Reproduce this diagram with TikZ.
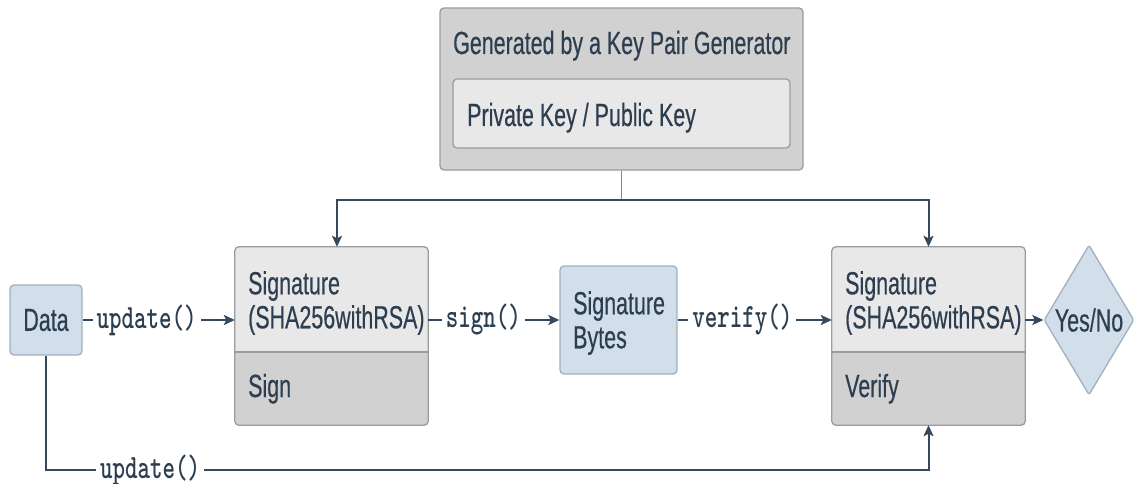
\documentclass[tikz,border=0pt]{standalone}
\usepackage{fontspec}
\usepackage{graphicx}
\setmainfont[FakeStretch=0.67,FakeBold=0.4]{Liberation Sans}
\usetikzlibrary{shapes.geometric,arrows.meta}

\definecolor{ink}{HTML}{2C3E50}
\definecolor{wire}{HTML}{34495E}
\definecolor{stem}{HTML}{7B8794}
\definecolor{frame}{HTML}{9C9C9C}
\definecolor{blueframe}{HTML}{9FB0C2}
\definecolor{panelgray}{HTML}{D1D1D1}
\definecolor{panellight}{HTML}{E8E8E8}
\definecolor{panelblue}{HTML}{D2DEEA}

\newcommand\bodyfont{\fontsize{32}{34}\selectfont}
% narrow bold typewriter for method names
\newcommand\code[1]{\scalebox{0.70}[1]{\ttfamily\bfseries\fontsize{34}{36}\selectfont #1}}

\tikzset{
  panel/.style={draw=frame, line width=1.3pt, rounded corners=4pt, inner sep=0pt},
  bluepanel/.style={panel, draw=blueframe, fill=panelblue},
  txt/.style={text=ink, font=\bodyfont, inner sep=0pt},
  conn/.style={draw=wire, line width=2pt},
  arr/.style={conn, -{Stealth[length=11pt,width=10pt,inset=2.5pt]}},
  lbl/.style={fill=white, text=ink, inner sep=4pt},
}

\begin{document}
\begin{tikzpicture}[x=1pt,y=-1pt]
\useasboundingbox (0,0) rectangle (1135,484);

% key pair generator
\node[panel, fill=panelgray, minimum width=363, minimum height=162] (gen) at (621.5,89) {};
\node[txt, anchor=base west] (gentitle) at (453,54) {Generated by a Key Pair Generator};
\node[panel, fill=panellight, minimum width=337, minimum height=69] (keys) at (621.5,113.5) {};
\node[txt, anchor=base west] (keytext) at (467,126) {Private Key / Public Key};

% data
\node[bluepanel, txt, minimum width=72, minimum height=70] (data) at (46,320) {Data};

% signing object
\node[fill=panelgray, rounded corners=4pt, minimum width=193, minimum height=178, inner sep=0pt] (sign) at (331.5,336) {};
\begin{scope}
  \clip[rounded corners=4pt] (sign.south west) rectangle (sign.north east);
  \fill[panellight] (sign.north west) rectangle (sign.east |- 0,352);
\end{scope}
\draw[frame, line width=1.5pt] (sign.west |- 0,352) -- (sign.east |- 0,352);
\draw[frame, line width=1.3pt, rounded corners=4pt] (sign.south west) rectangle (sign.north east);
\node[txt, anchor=west, align=left] (signtitle) at (248,303) {Signature\\(SHA256withRSA)};
\node[txt, anchor=base west] (signop) at (248,397) {Sign};

% signature bytes
\node[bluepanel, minimum width=117, minimum height=108] (bytes) at (618.5,320) {};
\node[txt, anchor=west, align=left] (bytestext) at (573,323) {Signature\\Bytes};

% verifying object
\node[fill=panelgray, rounded corners=4pt, minimum width=193, minimum height=178, inner sep=0pt] (verify) at (928.5,336) {};
\begin{scope}
  \clip[rounded corners=4pt] (verify.south west) rectangle (verify.north east);
  \fill[panellight] (verify.north west) rectangle (verify.east |- 0,352);
\end{scope}
\draw[frame, line width=1.5pt] (verify.west |- 0,352) -- (verify.east |- 0,352);
\draw[frame, line width=1.3pt, rounded corners=4pt] (verify.south west) rectangle (verify.north east);
\node[txt, anchor=west, align=left] (verifytitle) at (845,303) {Signature\\(SHA256withRSA)};
\node[txt, anchor=base west] (verifyop) at (845,397) {Verify};

% result
\node[diamond, draw=blueframe, fill=panelblue, line width=1.3pt, rounded corners=2pt,
      minimum width=90, minimum height=150, inner sep=0pt] (yn) at (1089,320) {};
\node[txt] (yntext) at (yn) {Yes/No};

% key distribution
\coordinate (split) at (621.5,200);
\draw[stem, line width=1.2pt] (gen.south) -- (split);
\draw[arr] (split) -| ([xshift=5.5]sign.north);
\draw[arr] (split) -| (verify.north);

% data flow
\draw[arr] (data.east) -- node[lbl, pos=0.42] {\code{update()}} (data.east -| sign.west);
\draw[arr] (sign.east |- data) -- node[lbl, pos=0.42] {\code{sign()}} (bytes.west);
\draw[arr] (bytes.east) -- node[lbl, pos=0.42] {\code{verify()}} (verify.west |- bytes);
\draw[arr] (verify.east |- yn) -- (yn.west);

\coordinate (b1) at (data.south |- 0,470);
\coordinate (b2) at (verify.south |- 0,470);
\draw[arr] (data.south) -- (b1) -- node[lbl, pos=0.118] {\code{update()}} (b2) -- (verify.south);
\end{tikzpicture}
\end{document}
